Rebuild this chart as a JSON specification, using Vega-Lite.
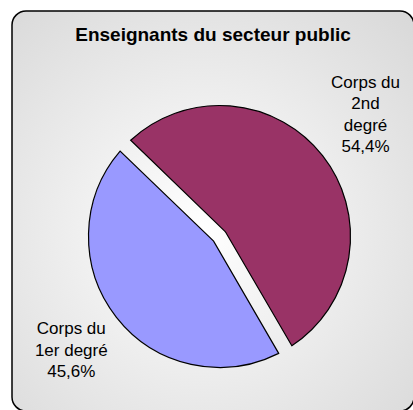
{
  "$schema": "https://vega.github.io/schema/vega-lite/v6.json",
  "width": 413,
  "height": 410,
  "autosize": {"type": "fit", "contains": "padding"},
  "padding": {"left": 11, "top": 10, "right": -2, "bottom": -2},
  "background": "white",
  "title": {
    "text": "Enseignants du secteur public",
    "font": "Liberation Sans",
    "fontSize": 19,
    "fontWeight": "bold",
    "color": "black",
    "anchor": "middle",
    "frame": "group",
    "baseline": "middle",
    "offset": -44
  },
  "config": {"view": {"stroke": null}},
  "datasets": {
    "parts": [
      {"categorie": "Corps du 2nd degré", "part": 54.4, "rang": 1, "label": "Corps du\n2nd\ndegré\n54,4%"},
      {"categorie": "Corps du 1er degré", "part": 45.6, "rang": 2, "label": "Corps du\n1er degré\n45,6%"}
    ],
    "cadre": [{"cadre": "fond"}]
  },
  "layer": [
    {
      "data": {"name": "cadre"},
      "mark": {
        "type": "rect",
        "cornerRadius": 14,
        "stroke": "black",
        "strokeWidth": 1.5,
        "fill": {
          "gradient": "radial",
          "x1": 0.47, "y1": 0.55, "r1": 0,
          "x2": 0.47, "y2": 0.55, "r2": 0.76,
          "stops": [
            {"offset": 0, "color": "#ffffff"},
            {"offset": 1, "color": "#d8d8d8"}
          ]
        }
      },
      "encoding": {}
    },
    {
      "data": {"name": "parts"},
      "mark": {"type": "arc", "outerRadius": 131, "innerRadius": 7.5, "padAngle": 0.116, "stroke": "black", "strokeWidth": 1.2, "xOffset": 6.5, "yOffset": 25.5},
      "encoding": {
        "theta": {"field": "part", "type": "quantitative", "stack": true, "scale": {"range": [5.48, 11.763]}},
        "order": {"field": "rang", "type": "quantitative"},
        "color": {"field": "categorie", "type": "nominal", "scale": {"domain": ["Corps du 2nd degré", "Corps du 1er degré"], "range": ["#993366", "#9999FF"]}, "legend": null}
      }
    },
    {
      "data": {"name": "parts"},
      "mark": {"type": "text", "radius": 189, "xOffset": 6.5, "yOffset": 25.5, "dx": -2.7, "dy": -37, "font": "Liberation Sans", "fontSize": 17, "lineBreak": "\n", "lineHeight": 21.5, "color": "black", "align": "center", "baseline": "middle"},
      "encoding": {
        "theta": {"field": "part", "type": "quantitative", "stack": true},
        "order": {"field": "rang", "type": "quantitative"},
        "text": {"condition": {"test": "datum.rang == 1", "field": "label"}, "value": ""}
      }
    },
    {
      "data": {"name": "parts"},
      "mark": {"type": "text", "radius": 189, "xOffset": 6.5, "yOffset": 25.5, "dx": 0.5, "dy": -24, "font": "Liberation Sans", "fontSize": 17, "lineBreak": "\n", "lineHeight": 21.5, "color": "black", "align": "center", "baseline": "middle"},
      "encoding": {
        "theta": {"field": "part", "type": "quantitative", "stack": true},
        "order": {"field": "rang", "type": "quantitative"},
        "text": {"condition": {"test": "datum.rang == 2", "field": "label"}, "value": ""}
      }
    }
  ]
}
